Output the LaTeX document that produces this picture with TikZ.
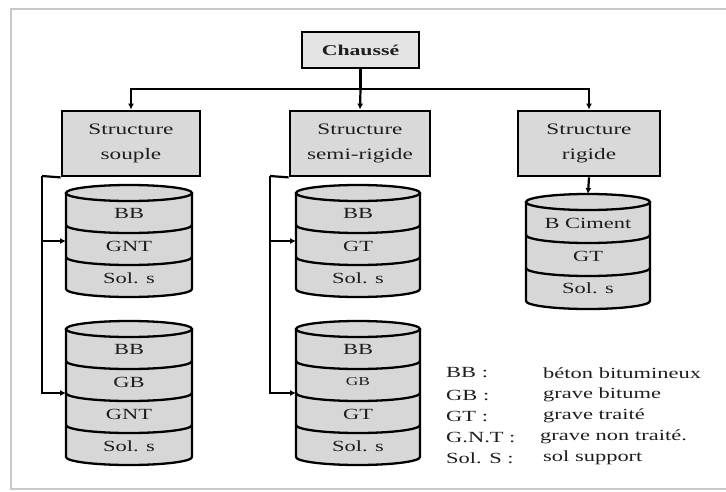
\documentclass[tikz,border=0pt]{standalone}
\usepackage{fontspec}
\setmainfont{Liberation Serif}[FakeStretch=1.45]
\usetikzlibrary{arrows.meta}
\definecolor{boxgray}{HTML}{D9D9D9}
\definecolor{topgray}{HTML}{E4E4E4}
\definecolor{cylgray}{HTML}{D7D7D7}
\definecolor{ink}{HTML}{1E1E1E}
\definecolor{framegray}{HTML}{C8C8C8}
\tikzset{
  box/.style={draw=black, line width=2.8pt, fill=boxgray, align=center, inner sep=0pt,
    text=ink, font=\fontsize{16}{25}\selectfont},
  conn/.style={draw=black, line width=2.2pt},
  arr/.style={conn, -{Latex[length=6pt,width=6pt]}},
  cylline/.style={draw=black, line width=2.3pt},
  lbl/.style={text=ink, font=\fontsize{15.5}{18}\selectfont, inner sep=0pt},
  leg/.style={text=ink, font=\fontsize{15.5}{18}\selectfont, inner sep=0pt, anchor=west},
  hold/.style={inner sep=0pt, outer sep=0pt}
}
\newcommand\cylry{8}
% #1 name, #2 cx, #3 y0 (top ellipse centre, negative), #4 rx, #5 layer height, #6 number of layers
\newcommand\mycyl[6]{%
  \pgfmathsetmacro\cylbot{#3-#6*#5}%
  \fill[cylgray] (#2-#4,#3) -- (#2-#4,\cylbot) arc[start angle=180,end angle=360,x radius=#4,y radius=\cylry]
     -- (#2+#4,#3) arc[start angle=0,end angle=180,x radius=#4,y radius=\cylry] -- cycle;
  \foreach \k in {1,...,\numexpr#6-1\relax}{%
    \draw[cylline] (#2-#4,#3-\k*#5) arc[start angle=180,end angle=360,x radius=#4,y radius=\cylry];}
  \draw[cylline] (#2-#4,#3) -- (#2-#4,\cylbot) arc[start angle=180,end angle=360,x radius=#4,y radius=\cylry] -- (#2+#4,#3);
  \draw[cylline] (#2,#3) ellipse[x radius=#4, y radius=\cylry];
  \node[hold, minimum width=2*#4, minimum height=#6*#5+2*\cylry] (#1) at (#2,#3-#6*#5/2) {};
}
\begin{document}
\begin{tikzpicture}[x=1pt,y=1pt]
\useasboundingbox (0,0) rectangle (726,-491);
% frame
\draw[framegray, line width=1.5pt] (726,-9) -- (11,-9) -- (11,-489) -- (726,-489);

% top box and structure boxes
\node[box, fill=topgray, minimum width=117, minimum height=36, font=\bfseries\fontsize{15}{18}\selectfont] (ch) at (360.5,-50) {Chaussé};
\node[box, minimum width=138, minimum height=65] (s1) at (131,-143.5) {Structure\\souple};
\node[box, minimum width=140, minimum height=65] (s2) at (360,-143.5) {Structure\\semi-rigide};
\node[box, minimum width=142, minimum height=65] (s3) at (589,-143.5) {Structure\\rigide};

\coordinate (hj) at (360.5,-89);
\draw[conn] (ch.south) -- (hj);
\draw[arr] (hj) -| (s1.north);
\draw[arr] (hj) -- (s2.north);
\draw[arr] (hj) -| (s3.north);

% cylinders
\mycyl{c1a}{129}{-193}{63}{32}{3}
\node[lbl] at (129,-213) {BB};
\node[lbl] at (129,-246) {GNT};
\node[lbl] at (129,-278) {Sol. s};

\mycyl{c1b}{129}{-329}{63}{32}{4}
\node[lbl] at (129,-349) {BB};
\node[lbl] at (129,-382) {GB};
\node[lbl] at (129,-414) {GNT};
\node[lbl] at (129,-446) {Sol. s};

\mycyl{c2a}{358}{-193}{62}{32}{3}
\node[lbl] at (358,-213) {BB};
\node[lbl] at (358,-246) {GT};
\node[lbl] at (358,-278) {Sol. s};

\mycyl{c2b}{358}{-329}{62}{32}{4}
\node[lbl] at (358,-349) {BB};
\node[lbl, font=\fontsize{12}{14}\selectfont] at (358,-382) {GB};
\node[lbl] at (358,-414) {GT};
\node[lbl] at (358,-446) {Sol. s};

\mycyl{c3}{588}{-202}{62}{33}{3}
\node[lbl] at (588,-223) {B Ciment};
\node[lbl] at (588,-256) {GT};
\node[lbl] at (588,-288) {Sol. s};

% connectors to cylinders
\draw[conn] (s1.south west) -- (42,-176) coordinate (v1);
\draw[arr] (v1) |- (c1b.west);
\draw[arr] (v1 |- c1a.west) -- (c1a.west);

\draw[conn] (s2.south west) -- (270,-176) coordinate (v2);
\draw[arr] (v2) |- (c2b.west);
\draw[arr] (v2 |- c2a.west) -- (c2a.west);

\draw[arr] (s3.south) -- (c3.north);

% legend
\node[leg] at (446,-373) {BB :};
\node[leg] at (446,-395) {GB :};
\node[leg] at (446,-416) {GT :};
\node[leg] at (446,-437) {G.N.T :};
\node[leg] at (446,-458) {Sol. S :};
\node[leg] at (543,-373) {béton bitumineux};
\node[leg] at (543,-395) {grave bitume};
\node[leg] at (543,-416) {grave traité};
\node[leg] at (540,-437) {grave non traité.};
\node[leg] at (543,-458) {sol support};
\end{tikzpicture}
\end{document}
